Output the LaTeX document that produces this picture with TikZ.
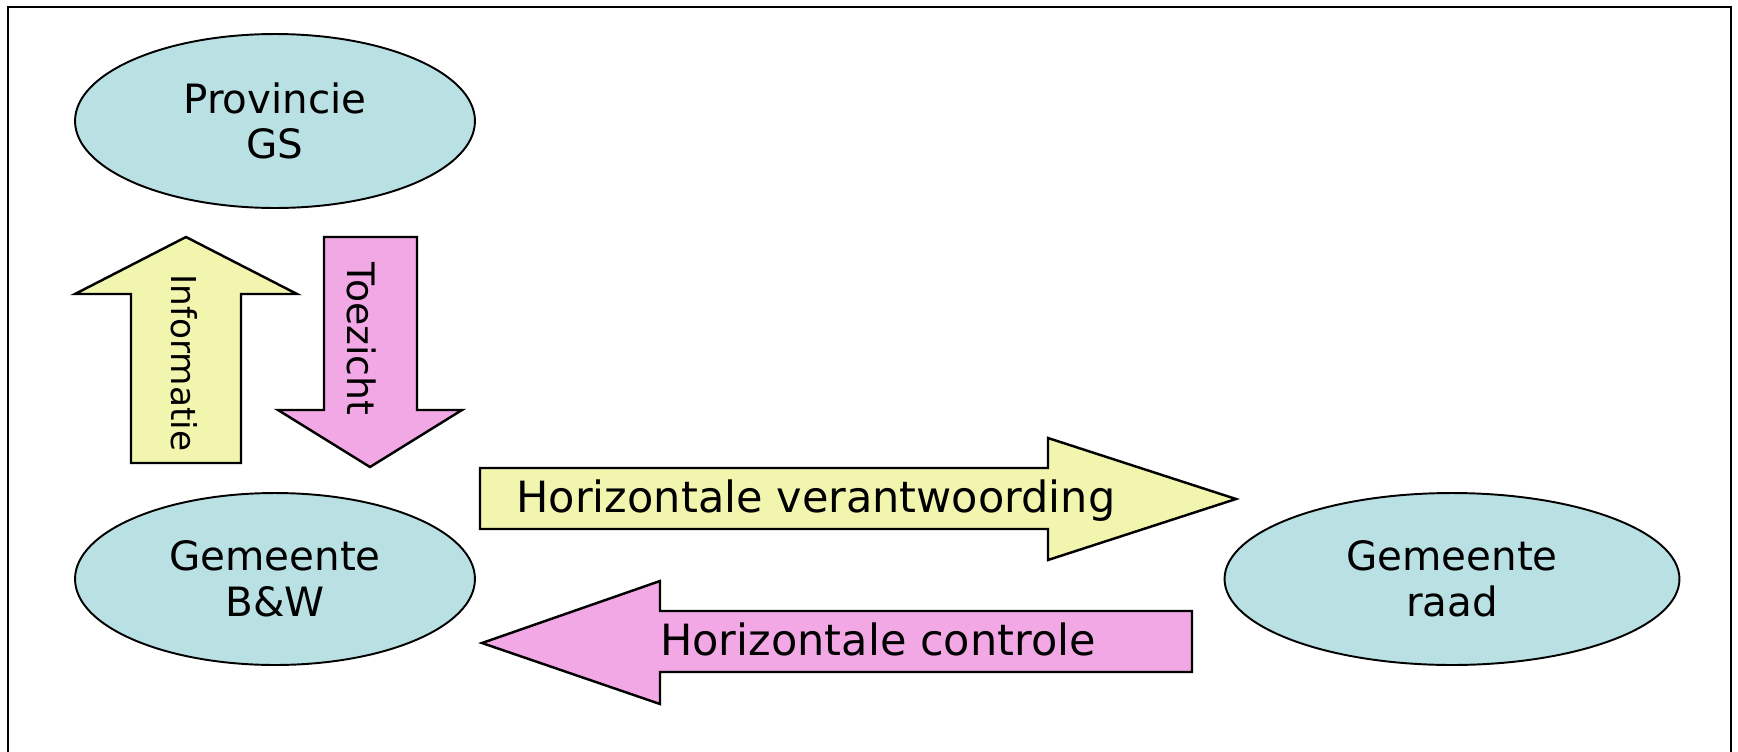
\documentclass[tikz,border=0pt]{standalone}
\usepackage{fontspec}
\setmainfont{DejaVu Sans}
\usetikzlibrary{shapes.geometric}
\definecolor{bolblauw}{RGB}{185,224,227}
\definecolor{pijlgeel}{RGB}{242,245,174}
\definecolor{pijlroze}{RGB}{243,168,230}
\begin{document}
\begin{tikzpicture}[x=0.02cm,y=-0.02cm,
	bol/.style={ellipse,draw,line width=1.1pt,fill=bolblauw,inner sep=0pt,align=center,font=\fontsize{23}{26}\selectfont},
	pijl/.style={draw,line width=1.4pt,line join=miter},
	hlabel/.style={anchor=base,inner sep=0pt,font=\fontsize{24.5}{28}\selectfont},
	vlabel/.style={rotate=-90,inner sep=0pt,font=\fontsize{19.5}{22}\selectfont}]
				\useasboundingbox (0,0) rectangle (1738,751);
				\draw[line width=1.6pt] (8,7) rectangle (1731,756);
				% ellipsen
				\node[bol,minimum width=8cm,minimum height=3.48cm] (prov) at (275,121) {Provincie\\GS};
				\node[bol,minimum width=8cm,minimum height=3.44cm] (bw) at (275,579) {Gemeente\\B\&W};
				\node[bol,minimum width=9.1cm,minimum height=3.44cm] (raad) at (1452,579) {Gemeente\\raad};
				% verticale pijlen
				\draw[pijl,fill=pijlgeel] (131,463)--(131,294)--(75,294)--(186,237)--(297,294)--(241,294)--(241,463)--cycle;
				\node[vlabel] (info) at (184,363) {Informatie};
				\draw[pijl,fill=pijlroze] (324,237)--(417,237)--(417,410)--(462,410)--(370,467)--(278,410)--(324,410)--cycle;
				\node[vlabel,font=\fontsize{21.5}{24}\selectfont] (toez) at (362,339) {Toezicht};
				% horizontale pijlen
				\draw[pijl,fill=pijlgeel] (480,468)--(1048,468)--(1048,438)--(1236,499)--(1048,560)--(1048,529)--(480,529)--cycle;
				\node[hlabel] (verantw) at (816,512) {Horizontale verantwoording};
				\draw[pijl,fill=pijlroze] (1192,611)--(660,611)--(660,581)--(482,643)--(660,704)--(660,672)--(1192,672)--cycle;
				\node[hlabel] (contr) at (878,655) {Horizontale controle};
\end{tikzpicture}
\end{document}
